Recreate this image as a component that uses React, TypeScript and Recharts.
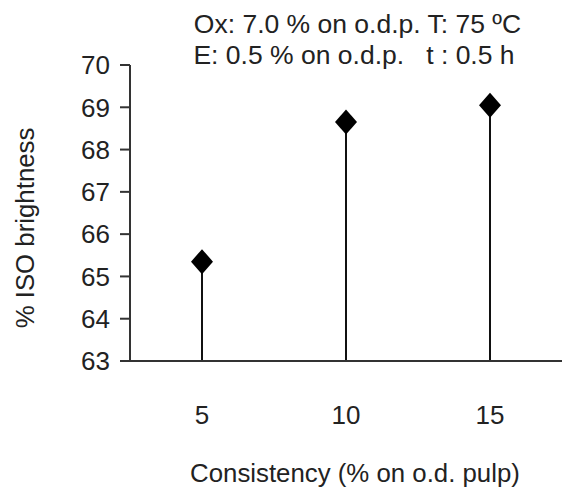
import React from 'react';
import { BarChart, Bar, XAxis, YAxis, Customized } from 'recharts';

const categories = ['5', '10', '15'];
const brightness = [65.35, 68.65, 69.05];
const yTicks = [63, 64, 65, 66, 67, 68, 69, 70];
const titleLines = ['Ox: 7.0 % on o.d.p. T: 75 ºC', 'E: 0.5 % on o.d.p.   t : 0.5 h'];
const xTitle = 'Consistency (% on o.d. pulp)';
const yTitle = '% ISO brightness';

const data = categories.map((c, i) => ({ cat: c, value: brightness[i] }));

const FONT = '"Liberation Sans", Arial, Helvetica, sans-serif';
const TEXT = '#222';
const AXIS = '#333';

const StemShape = (props: any) => {
  const { x, y, width, height } = props;
  const cx = x + width / 2;
  const bottom = y + height;
  const hw = 11;
  const hh = 12.5;
  return (
    <g>
      <line x1={cx} y1={bottom} x2={cx} y2={y} stroke="#111" strokeWidth={2} />
      <polygon
        points={`${cx},${y - hh} ${cx + hw},${y} ${cx},${y + hh} ${cx - hw},${y}`}
        fill="#000"
      />
    </g>
  );
};

const Titles = () => (
  <g fontFamily={FONT} fill={TEXT}>
    <text x={357.5} y={33} textAnchor="middle" fontSize={26.5} style={{ whiteSpace: 'pre' }} xmlSpace="preserve">{titleLines[0]}</text>
    <text x={354} y={63.5} textAnchor="middle" fontSize={26.5} style={{ whiteSpace: 'pre' }} xmlSpace="preserve">{titleLines[1]}</text>
    <text x={355} y={482} textAnchor="middle" fontSize={25.8}>{xTitle}</text>
    <text x={34} y={228} textAnchor="middle" fontSize={25.8} transform="rotate(-90, 34, 228)">{yTitle}</text>
  </g>
);

export default function App() {
  return (
    <div style={{ position: 'absolute', left: 0, top: 0, width: 562, height: 488, background: '#fff' }}>
      <BarChart
        width={562}
        height={488}
        data={data}
        margin={{ top: 65, right: 0, bottom: 0, left: 0 }}
        barCategoryGap={0}
        style={{ fontFamily: FONT }}
      >
        <XAxis
          dataKey="cat"
          type="category"
          tickLine={false}
          tickSize={0}
          tickMargin={45}
          axisLine={{ stroke: AXIS, strokeWidth: 2 }}
          tick={{ fill: TEXT, fontSize: 26, fontFamily: FONT }}
          height={127}
          interval={0}
        />
        <YAxis
          type="number"
          domain={[63, 70]}
          ticks={yTicks}
          interval={0}
          width={130}
          tickSize={10}
          tickMargin={10}
          axisLine={{ stroke: AXIS, strokeWidth: 2 }}
          tickLine={{ stroke: AXIS, strokeWidth: 2 }}
          tick={{ fill: TEXT, fontSize: 26, fontFamily: FONT }}
          allowDataOverflow
        />
        <Bar dataKey="value" shape={StemShape} isAnimationActive={false} />
        <Customized component={Titles} />
      </BarChart>
    </div>
  );
}
